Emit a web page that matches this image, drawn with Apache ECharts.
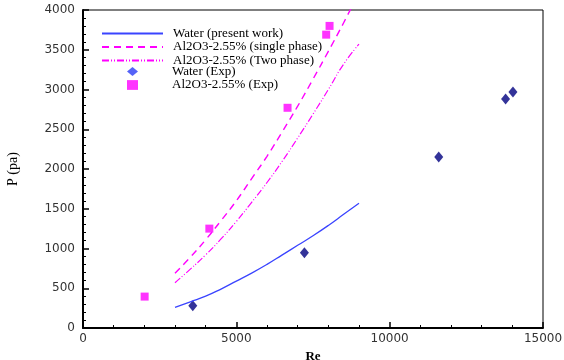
<!DOCTYPE html>
<html>
<head>
<meta charset="utf-8">
<script src="https://cdn.jsdelivr.net/npm/echarts@6/dist/echarts.min.js"></script>
<style>html,body{margin:0;padding:0;background:#fff;}#c{width:564px;height:360px;}</style>
</head>
<body>
<div id="c"></div>
<script>
// Model curves (Re grid)
const reCurve = [3000, 3500, 4000, 4500, 5000, 5500, 6000, 6500, 7000, 7500, 8000, 8500, 9000];
const waterModel = [260, 330, 400, 490, 590, 690, 800, 920, 1040, 1160, 1290, 1430, 1570];
const singlePhase = [690, 890, 1110, 1350, 1600, 1880, 2160, 2470, 2790, 3130, 3480, 3840, 4220];
const twoPhase = [570, 740, 920, 1120, 1340, 1580, 1830, 2100, 2390, 2690, 3000, 3320, 3570];
// Experimental points
const waterExpRe = [3580, 7220, 11600, 13780, 14020];
const waterExpP = [280, 945, 2150, 2880, 2970];
const alExpRe = [2010, 4120, 6670, 7930, 8040];
const alExpP = [395, 1250, 2770, 3690, 3800];
// Axis ticks
const xTicks = [0, 5000, 10000, 15000];
const yTicks = [0, 500, 1000, 1500, 2000, 2500, 3000, 3500, 4000];
const names = ['Water (present work)', 'Al2O3-2.55% (single phase)', 'Al2O3-2.55% (Two phase)', 'Water (Exp)', 'Al2O3-2.55% (Exp)'];

const zip = (a, b) => a.map((v, i) => [v, b[i]]);
const chart = echarts.init(document.getElementById('c'));
const axisLbl = {color: '#333', fontFamily: 'DejaVu Sans', fontSize: 12};
const legendText = {fontFamily: 'Liberation Serif', fontSize: 13, color: '#000', lineHeight: 12};
const hideSym = {opacity: 0};
chart.setOption({
  animation: false,
  backgroundColor: '#fff',
  grid: {left: 83, right: 21, top: 10, bottom: 32, show: true, borderColor: '#000', borderWidth: 1,
         containLabel: false, outerBoundsMode: 'none'},
  legend: [
    {
      left: 101, top: 27, orient: 'vertical', padding: 0, itemWidth: 61, itemHeight: 12, itemGap: 0.5,
      textStyle: Object.assign({padding: [0, 0, 0, 5]}, legendText),
      data: [
        {name: names[0], itemStyle: hideSym},
        {name: names[1], itemStyle: hideSym},
        {name: names[2], itemStyle: hideSym}
      ]
    },
    {
      left: 127, top: 65, orient: 'vertical', padding: 0, itemWidth: 11, itemHeight: 12, itemGap: 0.5,
      textStyle: Object.assign({padding: [0, 0, 0, 29]}, legendText),
      data: [
        {name: names[3], icon: 'path://M5.5,1.5 L11,6 L5.5,10.5 L0,6 Z', itemStyle: {color: '#2a3cf5'}},
        {name: names[4], icon: 'path://M1,2 L10,2 L10,10 L1,10 Z'}
      ]
    }
  ],
  xAxis: {
    type: 'value', min: 0, max: 15000, interval: 5000,
    name: 'Re', nameLocation: 'middle', nameGap: 17,
    nameTextStyle: {fontFamily: 'Liberation Serif', fontWeight: 'bold', fontSize: 13, color: '#000'},
    axisLine: {show: true, onZero: false, lineStyle: {color: '#000', width: 2}},
    axisTick: {show: true, inside: true, length: 6, lineStyle: {color: '#000', width: 1.5}},
    minorTick: {show: true, splitNumber: 5, length: 3, lineStyle: {color: '#000'}},
    splitLine: {show: false},
    axisLabel: Object.assign({margin: 5, formatter: v => xTicks.includes(v) ? String(v) : ''}, axisLbl)
  },
  yAxis: {
    type: 'value', min: 0, max: 4000, interval: 500,
    name: 'P (pa)', nameLocation: 'middle', nameGap: 63,
    nameTextStyle: {fontFamily: 'Liberation Serif', fontSize: 14, color: '#000'},
    axisLine: {show: true, onZero: false, lineStyle: {color: '#000', width: 2}},
    axisTick: {show: true, inside: true, length: 6, lineStyle: {color: '#000', width: 1.5}},
    minorTick: {show: true, splitNumber: 5, length: 3, lineStyle: {color: '#000'}},
    splitLine: {show: false},
    axisLabel: Object.assign({margin: 8, padding: [6, 0, 0, 0], formatter: v => yTicks.includes(v) ? String(v) : ''}, axisLbl)
  },
  series: [
    {name: names[0], type: 'line', data: zip(reCurve, waterModel), symbol: 'none', smooth: true,
     lineStyle: {color: '#3a44ff', width: 1.3}, itemStyle: {color: '#3a44ff'}},
    {name: names[1], type: 'line', data: zip(reCurve, singlePhase), symbol: 'none', smooth: true,
     lineStyle: {color: '#ff00ff', width: 1.4, type: [7, 5]}, itemStyle: {color: '#ff00ff'}},
    {name: names[2], type: 'line', data: zip(reCurve, twoPhase), symbol: 'none', smooth: true,
     lineStyle: {color: '#ff00ff', width: 1.2, type: [7, 2, 1, 2, 1, 2]}, itemStyle: {color: '#ff00ff'}},
    {name: names[3], type: 'scatter', data: zip(waterExpRe, waterExpP), symbol: 'diamond', symbolSize: [9, 11],
     itemStyle: {color: '#000080'}},
    {name: names[4], type: 'scatter', data: zip(alExpRe, alExpP), symbol: 'rect', symbolSize: 8,
     itemStyle: {color: '#ff00ff'}}
  ]
});
</script>
</body>
</html>
